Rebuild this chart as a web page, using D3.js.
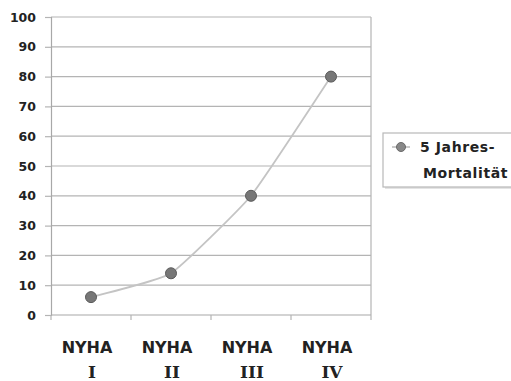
<!DOCTYPE html>
<html>
<head>
<meta charset="utf-8">
<script src="https://cdn.jsdelivr.net/npm/d3@7"></script>
<style>
  html, body { margin: 0; padding: 0; background: #fff; }
  svg { display: block; }
</style>
</head>
<body>
<svg id="chart" width="511" height="381"></svg>
<script>
const categories = ["NYHA I", "NYHA II", "NYHA III", "NYHA IV"];
const labelLine1 = ["NYHA", "NYHA", "NYHA", "NYHA"];
const labelLine2 = ["I", "II", "III", "IV"];
const values = [6, 14, 40, 80];
const yTicks = [0, 10, 20, 30, 40, 50, 60, 70, 80, 90, 100];
const seriesName = ["5 Jahres-", "Mortalität"];

const svg = d3.select("#chart");
const mLeft = 51, mRight = 371, mTop = 17, mBottom = 315;
const font = "'DejaVu Sans', Verdana, sans-serif";

const x = d3.scaleBand().domain(categories).range([mLeft, mRight]).padding(0);
const y = d3.scaleLinear().domain([0, 100]).range([mBottom, mTop]);

// gridlines
svg.append("g").selectAll("line").data(yTicks.filter(d => d > 0)).join("line")
  .attr("x1", mLeft).attr("x2", mRight)
  .attr("y1", d => y(d)).attr("y2", d => y(d))
  .attr("stroke", "#b4b4b4").attr("stroke-width", 1.2);

// y axis
const yAxis = d3.axisLeft(y).tickValues(yTicks).tickSize(6).tickPadding(9).tickFormat(d3.format("d"));
const gy = svg.append("g").attr("transform", `translate(${mLeft},0)`).call(yAxis);
gy.select(".domain").attr("stroke", "#a8a8a8").attr("stroke-width", 1.2);
gy.selectAll(".tick line").attr("stroke", "#b4b4b4").attr("stroke-width", 1.2);
gy.selectAll(".tick text").attr("font-family", font).attr("font-weight", "bold")
  .attr("font-size", "12.5px").attr("fill", "#222");

// right border
svg.append("line").attr("x1", mRight).attr("x2", mRight).attr("y1", mTop).attr("y2", mBottom)
  .attr("stroke", "#b4b4b4").attr("stroke-width", 1.2);

// x axis (ticks at category boundaries)
const boundaries = categories.map(c => x(c)).concat([mRight]);
svg.append("line").attr("x1", mLeft).attr("x2", mRight).attr("y1", mBottom).attr("y2", mBottom)
  .attr("stroke", "#a8a8a8").attr("stroke-width", 1.2);
svg.append("g").selectAll("line").data(boundaries).join("line")
  .attr("x1", d => d).attr("x2", d => d).attr("y1", mBottom).attr("y2", mBottom + 5)
  .attr("stroke", "#b4b4b4").attr("stroke-width", 1.2);

// x labels
const xl = svg.append("g");
xl.selectAll("text.l1").data(categories).join("text").attr("class", "l1")
  .attr("x", (d, i) => x(d) + x.bandwidth() / 2 - 4).attr("y", 353)
  .attr("text-anchor", "middle").attr("font-family", font).attr("font-weight", "bold")
  .attr("font-size", "16px").attr("fill", "#222")
  .text((d, i) => labelLine1[i]);
xl.selectAll("text.l2").data(categories).join("text").attr("class", "l2")
  .attr("x", (d, i) => x(d) + x.bandwidth() / 2 + 1).attr("y", 378)
  .attr("text-anchor", "middle").attr("font-family", "'DejaVu Serif', serif").attr("font-weight", "bold")
  .attr("font-size", "17px").attr("fill", "#222")
  .text((d, i) => labelLine2[i]);

// line
const pts = categories.map((c, i) => [x(c) + x.bandwidth() / 2, y(values[i])]);
svg.append("path").datum(pts)
  .attr("d", d3.line().curve(d3.curveCardinal.tension(0.6)))
  .attr("fill", "none").attr("stroke", "#c4c4c4").attr("stroke-width", 1.8);

svg.append("g").selectAll("circle").data(pts).join("circle")
  .attr("cx", d => d[0]).attr("cy", d => d[1]).attr("r", 5.5)
  .attr("fill", "#777").attr("stroke", "#5a5a5a").attr("stroke-width", 1);

// legend
const lg = svg.append("g");
lg.append("rect").attr("x", 385).attr("y", 135).attr("width", 140).attr("height", 54)
  .attr("fill", "#e4e4e4");
lg.append("rect").attr("x", 383).attr("y", 133).attr("width", 140).attr("height", 54)
  .attr("fill", "#fff").attr("stroke", "#b8b8b8").attr("stroke-width", 1.2);
lg.append("line").attr("x1", 392).attr("x2", 410).attr("y1", 147).attr("y2", 147)
  .attr("stroke", "#c4c4c4").attr("stroke-width", 1.8);
lg.append("circle").attr("cx", 401).attr("cy", 147).attr("r", 4.5)
  .attr("fill", "#888").attr("stroke", "#6a6a6a").attr("stroke-width", 1);
lg.append("text").attr("x", 420).attr("y", 152).attr("font-family", font).attr("font-weight", "bold")
  .attr("font-size", "14px").attr("fill", "#222").attr("letter-spacing", "0.6px").text(seriesName[0]);
lg.append("text").attr("x", 423).attr("y", 178).attr("font-family", font).attr("font-weight", "bold")
  .attr("font-size", "14px").attr("fill", "#222").attr("letter-spacing", "0.6px").text(seriesName[1]);
</script>
</body>
</html>
